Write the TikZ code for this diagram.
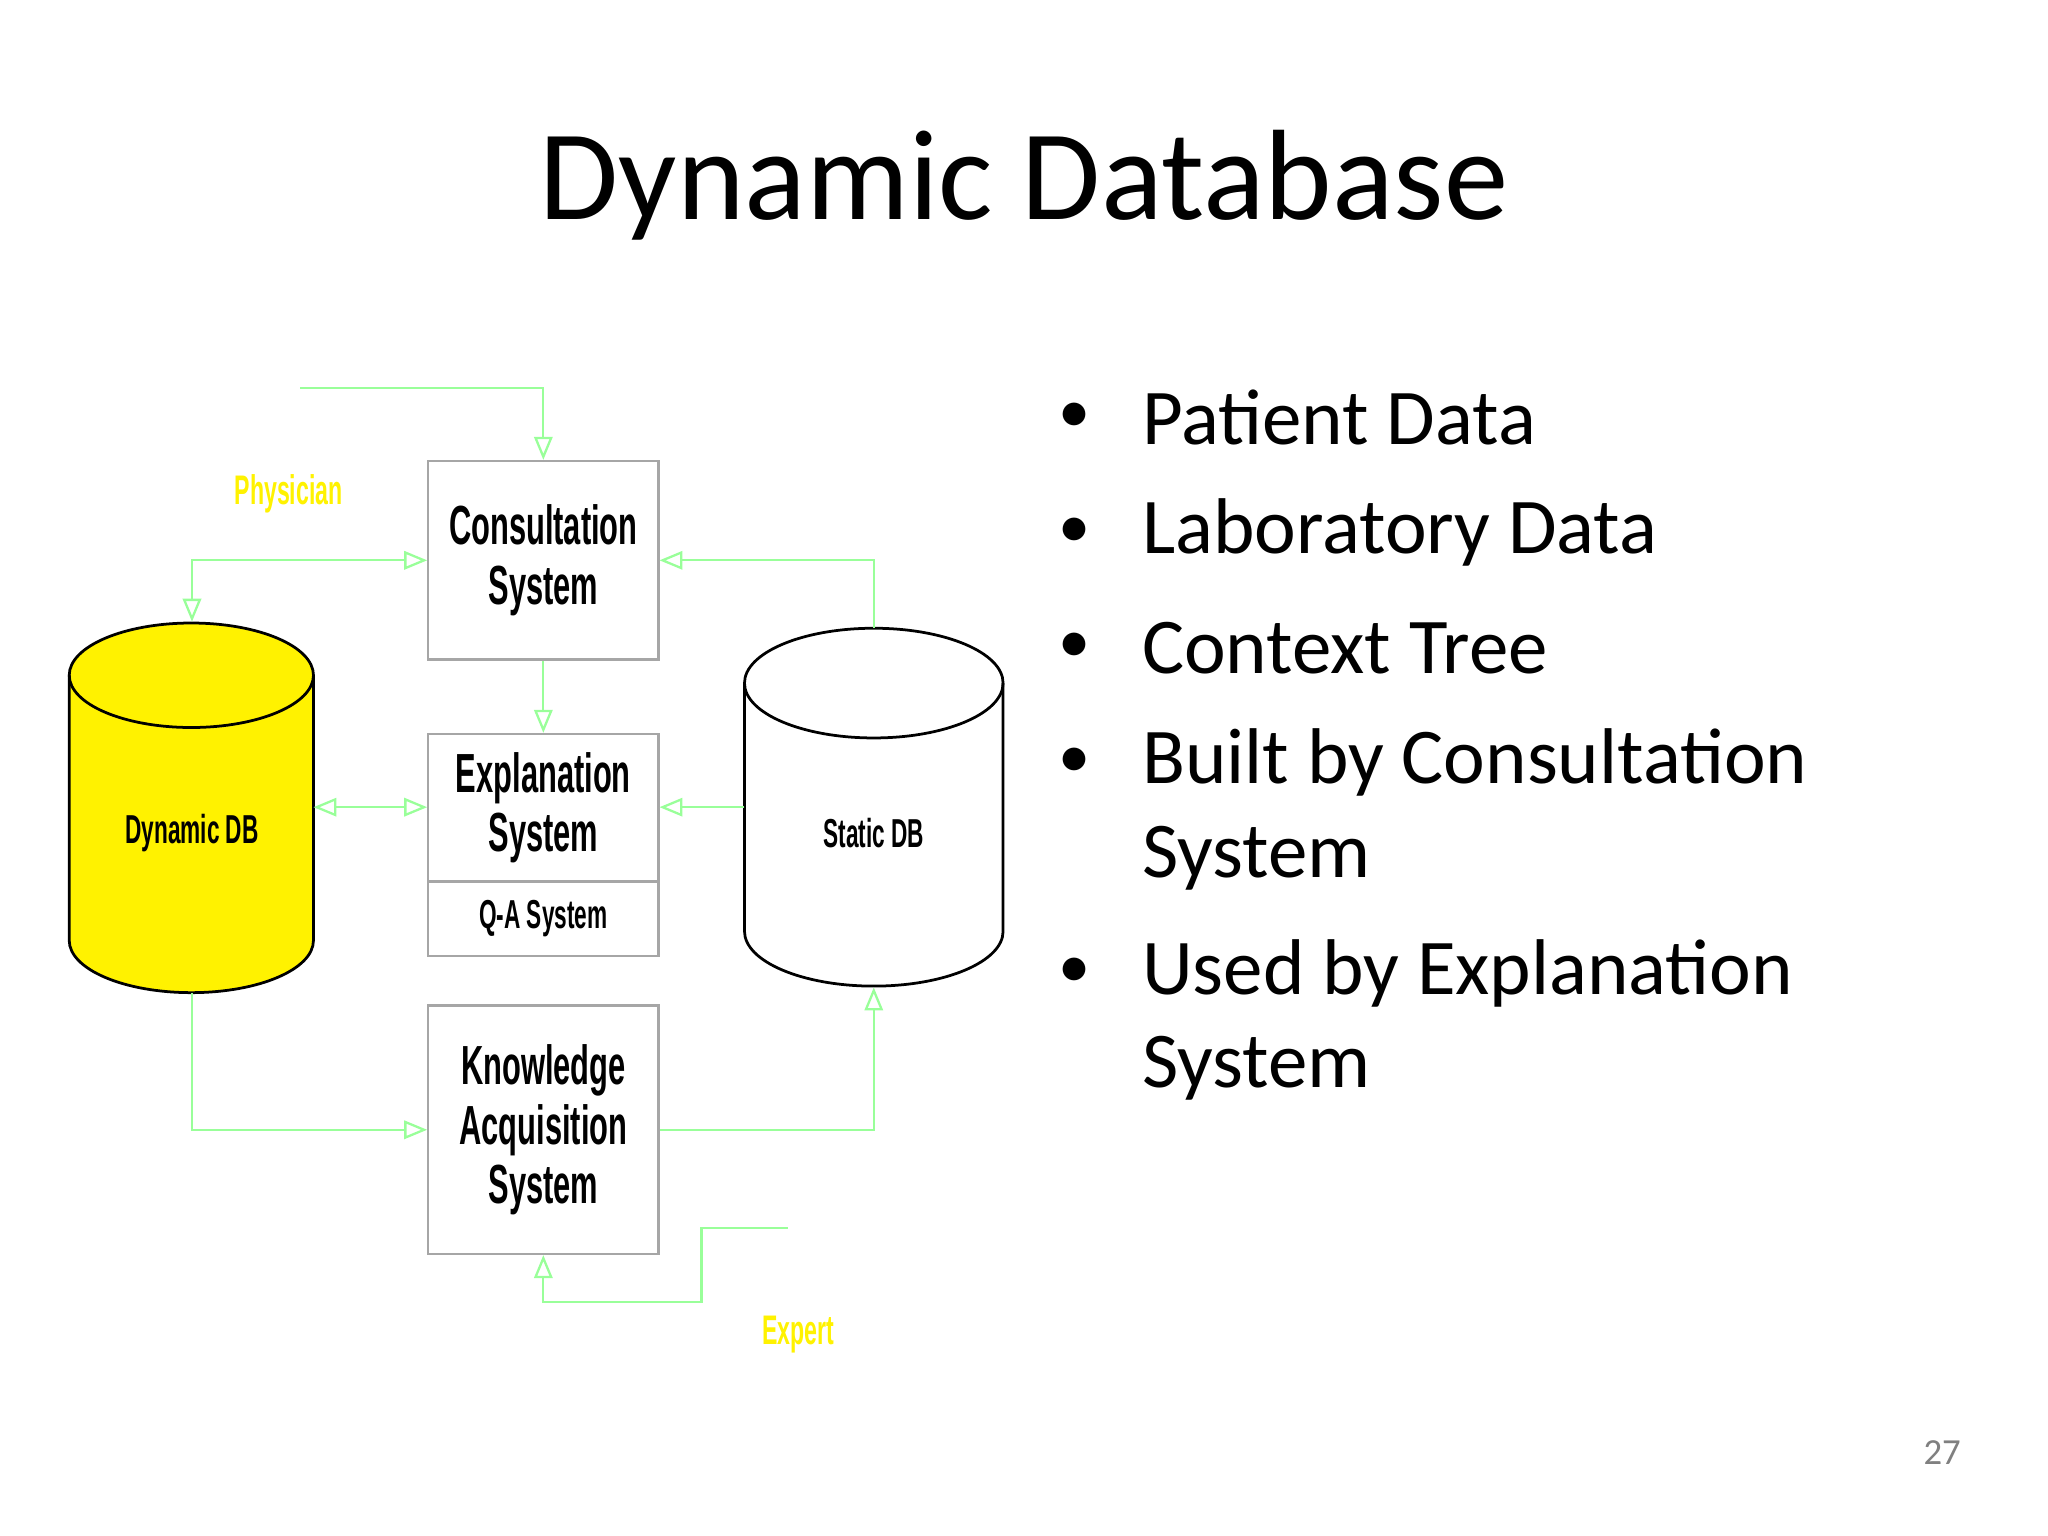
\documentclass[tikz,border=0pt]{standalone}
\usetikzlibrary{arrows.meta}
\usepackage{fontspec}
\setmainfont{Carlito}
\newfontfamily\narrow[FakeStretch=0.56]{Liberation Sans Bold}
\begin{document}
\begin{tikzpicture}[x=0.01cm,y=-0.01cm,
  conn/.style={draw=green!40!white, line width=0.5pt, -{Triangle[open,length=5pt,width=4pt]}},
  box/.style={draw=gray!70, line width=0.5pt, minimum width=1.76cm, inner sep=0},
  btxt/.style={font=\narrow\fontsize{12}{13}\selectfont, align=center},
  stxt/.style={font=\narrow\fontsize{8.8}{11}\selectfont},
  lbl/.style={font=\narrow\fontsize{9}{11}\selectfont, text=yellow},
  bul/.style={anchor=west, font=\fontsize{17.2}{21}\selectfont, align=left}]
\useasboundingbox (0,0) rectangle (1568,1176);
\node[font=\fontsize{28}{34}\selectfont] (title) at (784,142) {Dynamic Database};
% boxes
\node[box, minimum height=1.52cm, btxt] (cs) at (416,429) {Consultation\\System};
\node[box, minimum height=1.13cm, btxt] (es) at (416,618.5) {Explanation\\System};
\node[box, minimum height=0.57cm, stxt] (qa) at (416,703.5) {Q-A System};
\node[box, minimum height=1.90cm, btxt] (ka) at (416,865) {Knowledge\\Acquisition\\System};
% cylinders
\filldraw[fill=yellow, draw=black, line width=0.6pt] (53,517) -- (53,720) arc[start angle=180,end angle=0,x radius=93.5,y radius=40] -- (240,517) arc[start angle=0,end angle=-180,x radius=93.5,y radius=40];
\draw[line width=0.6pt] (53,517) arc[start angle=180,end angle=0,x radius=93.5,y radius=40];
\draw[line width=0.6pt] (570,523) -- (570,713) arc[start angle=180,end angle=0,x radius=99,y radius=42] -- (768,523) arc[start angle=0,end angle=-180,x radius=99,y radius=42];
\draw[line width=0.6pt] (570,523) arc[start angle=180,end angle=0,x radius=99,y radius=42];
\node[stxt] (ddb) at (147,638) {Dynamic DB};
\node[stxt] (sdb) at (669,638) {Static DB};
\coordinate (dtop) at (147,476); \coordinate (dbot) at (147,760);
\coordinate (dright) at (240,618);
\coordinate (stop) at (669,481); \coordinate (sbot) at (669,756);
\coordinate (sleft) at (570,618);
\coordinate (p0) at (230,297);
\coordinate (e0) at (603,940);
% connectors
\draw[conn] (p0) -| (cs.north);
\draw[conn,{Triangle[open,length=5pt,width=4pt]}-{Triangle[open,length=5pt,width=4pt]}] (dtop) |- (cs.west);
\draw[conn] (stop) |- (cs.east);
\draw[conn] (cs.south) -- (es.north);
\draw[conn,{Triangle[open,length=5pt,width=4pt]}-{Triangle[open,length=5pt,width=4pt]}] (dright) -- (dright -| es.west);
\draw[conn] (sleft) -- (sleft -| es.east);
\draw[conn] (dbot) |- (ka.west);
\draw[conn] (ka.east) -| (sbot);
\draw[conn] (e0) -- (537,940) -- (537,997) -| (ka.south);
\node[lbl] (phys) at (221,378) {Physician};
\node[lbl] (exp) at (611,1022) {Expert};
% bullets
\foreach \y/\t in {320/Patient Data, 408/Laboratory Data, 496/Context Tree, 584/Built by Consultation, 745/Used by Explanation}{
  \node[anchor=center, font=\fontsize{14}{16}\selectfont] at (823,\y) {•};
  \node[bul] at (862,\y) {\t};
}
\node[bul] (b4) at (862,657) {System};
\node[bul] (b5) at (862,818) {System};
\node[text=gray, font=\fontsize{8}{10}\selectfont] (pg) at (1487,1112) {27};
\end{tikzpicture}
\end{document}
